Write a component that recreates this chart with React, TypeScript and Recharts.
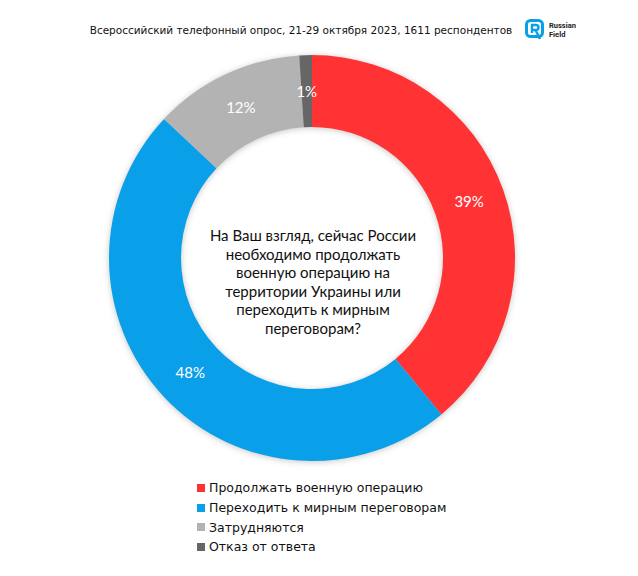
import { PieChart, Pie, Cell } from "recharts";

const answers = [
  "Продолжать военную операцию",
  "Переходить к мирным переговорам",
  "Затрудняются",
  "Отказ от ответа",
];
const shares = [39, 48, 12, 1];
const colors = ["#FF3333", "#0A9FE9", "#B3B3B3", "#666666"];

const title = "Всероссийский телефонный опрос, 21-29 октября 2023, 1611 респондентов";
const questionLines = [
  "На Ваш взгляд, сейчас России",
  "необходимо продолжать",
  "военную операцию на",
  "территории Украины или",
  "переходить к мирным",
  "переговорам?",
];

const data = answers.map((name, i) => ({ name, value: shares[i] }));

const RADIAN = Math.PI / 180;

type LabelProps = {
  cx: number;
  cy: number;
  midAngle: number;
  innerRadius: number;
  outerRadius: number;
  value: number;
};

function SliceLabel({ cx, cy, midAngle, innerRadius, outerRadius, value }: LabelProps) {
  const r = (innerRadius + outerRadius) / 2;
  const x = cx + r * Math.cos(-midAngle * RADIAN);
  const y = cy + r * Math.sin(-midAngle * RADIAN);
  return (
    <text
      x={x}
      y={y}
      fill="#fff"
      textAnchor="middle"
      dominantBaseline="central"
      fontFamily="Lato, 'Open Sans', sans-serif"
      fontSize={15}
    >
      {value}%
    </text>
  );
}

function Logo() {
  return (
    <div style={{ position: "absolute", left: 525, top: 19, display: "flex", alignItems: "center", gap: 4 }}>
      <svg width={20} height={22} viewBox="0 0 20 22">
        <rect x={1.5} y={1.5} width={16} height={16} rx={4} fill="none" stroke="#0A9FE9" strokeWidth={3} />
        <path d="M7 14 V6 h4 a2.5 2.5 0 0 1 0 5 H7 M10.5 11 L15 20" fill="none" stroke="#0A9FE9" strokeWidth={2.4} />
      </svg>
      <div style={{ fontFamily: "Roboto, sans-serif", fontWeight: 700, fontSize: 7.5, lineHeight: "9px", color: "#222" }}>
        Russian
        <br />
        Field
      </div>
    </div>
  );
}

export default function App() {
  return (
    <div
      style={{
        position: "absolute",
        left: 0,
        top: 0,
        width: 638,
        height: 576,
        background: "#fff",
        overflow: "hidden",
      }}
    >
      <style>{`.ring .recharts-pie { filter: drop-shadow(0 1px 3px rgba(0,0,0,0.22)); }`}</style>
      <div
        style={{
          position: "absolute",
          left: 0,
          top: 24,
          width: 602,
          textAlign: "center",
          fontFamily: "'DejaVu Sans', sans-serif",
          fontSize: 10.5,
          color: "#111",
        }}
      >
        {title}
      </div>
      <Logo />
      <div className="ring" style={{ position: "absolute", left: 0, top: 0 }}>
        <PieChart width={638} height={576}>
          <Pie
            data={data}
            dataKey="value"
            cx={307}
            cy={253}
            innerRadius={131}
            outerRadius={203}
            startAngle={90}
            endAngle={-270}
            stroke="none"
            labelLine={false}
            label={(p: any) => <SliceLabel {...p} />}
            isAnimationActive={false}
          >
            {data.map((d, i) => (
              <Cell key={d.name} fill={colors[i]} />
            ))}
          </Pie>
        </PieChart>
      </div>
      <div
        style={{
          position: "absolute",
          left: 163,
          top: 226,
          width: 300,
          textAlign: "center",
          fontFamily: "Lato, sans-serif",
          fontSize: 15,
          lineHeight: "18.6px",
          color: "#111",
        }}
      >
        {questionLines.map((l) => (
          <div key={l}>{l}</div>
        ))}
      </div>
      <div
        style={{
          position: "absolute",
          left: 197,
          top: 478,
          fontFamily: "'DejaVu Sans', sans-serif",
          fontSize: 12.5,
          color: "#111",
        }}
      >
        {data.map((d, i) => (
          <div key={d.name} style={{ display: "flex", alignItems: "center", height: 19.7 }}>
            <span style={{ width: 8, height: 8, background: colors[i], marginRight: 4, display: "inline-block" }} />
            {d.name}
          </div>
        ))}
      </div>
    </div>
  );
}
